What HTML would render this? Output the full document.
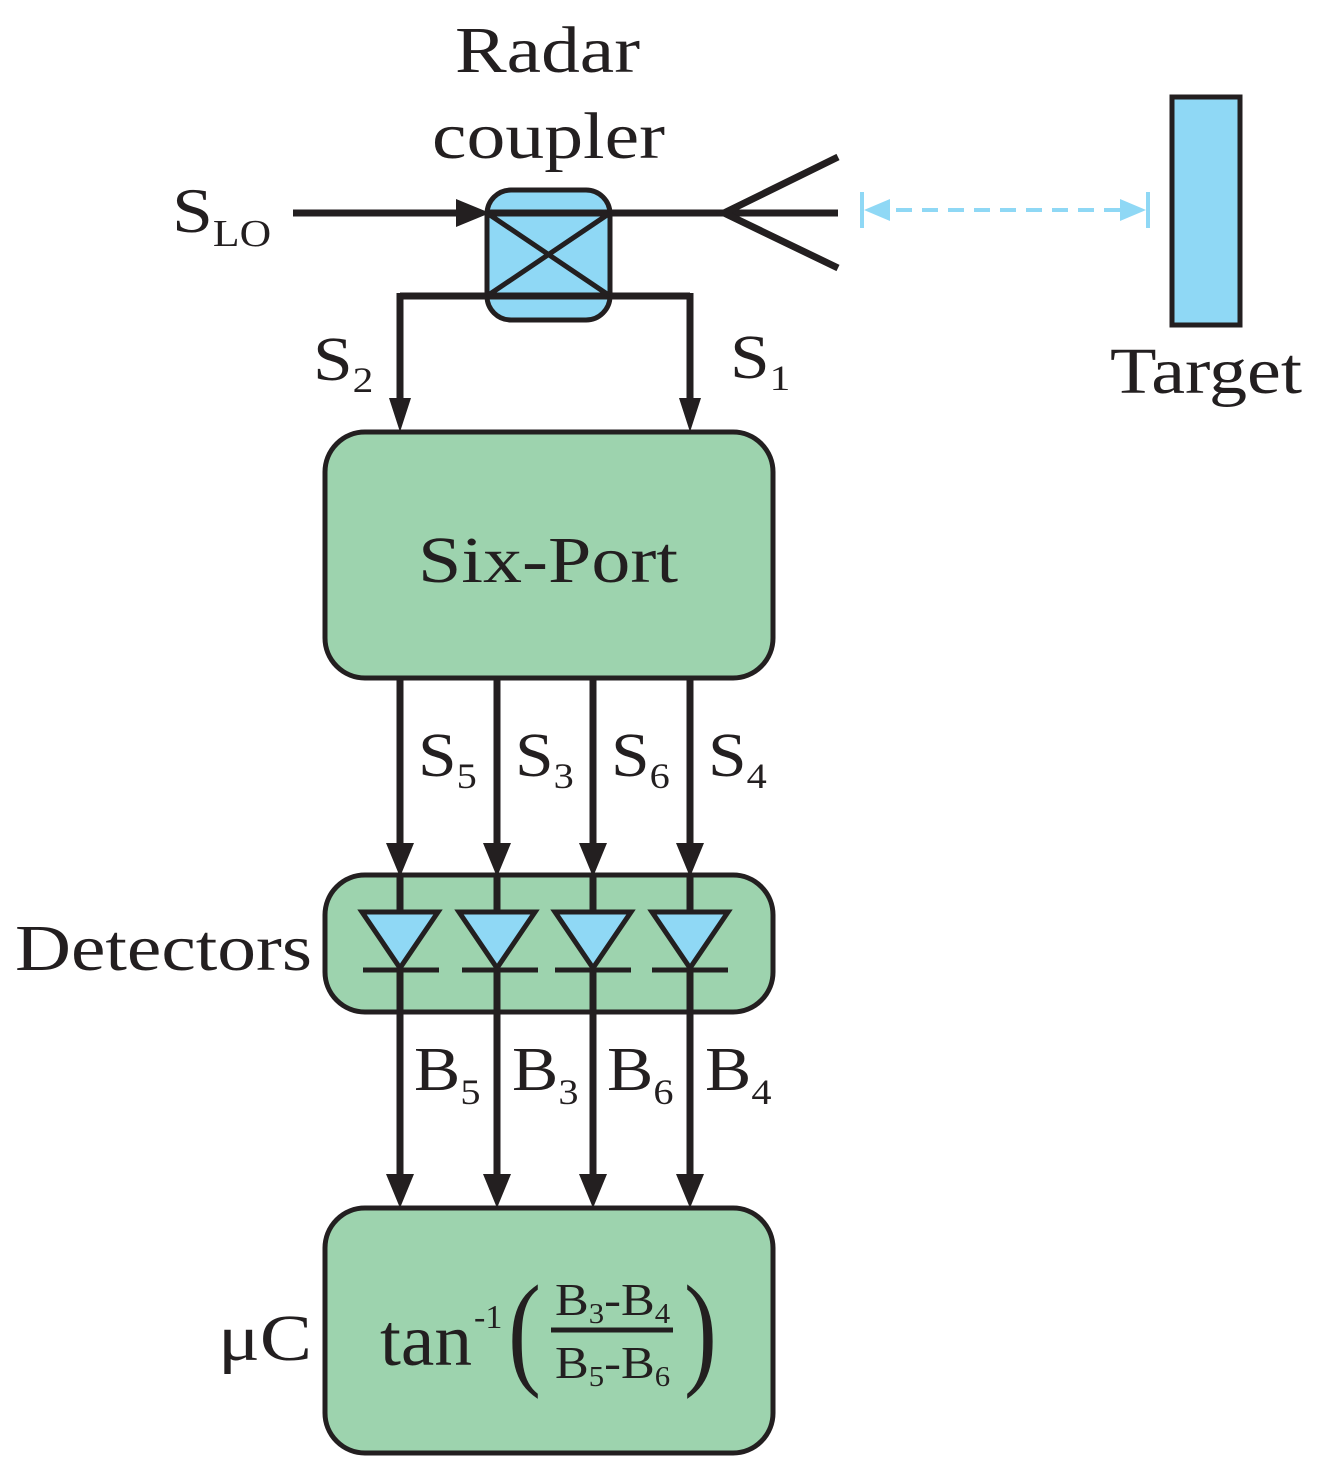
<!DOCTYPE html>
<html><head><meta charset="utf-8"><style>body{margin:0;background:#fff}svg{display:block}</style></head><body>
<svg width="1321" height="1477" viewBox="0 0 1321 1477" xmlns="http://www.w3.org/2000/svg" font-family="Liberation Serif, serif" fill="#231f20">
<g stroke="#231f20" stroke-width="7" fill="none">
<line x1="293" y1="213" x2="470" y2="213"/>
<rect x="487" y="190" width="123" height="130" rx="24" fill="#8fd8f5" stroke-width="5"/>
<line x1="487" y1="213" x2="838" y2="213"/>
<line x1="400" y1="296" x2="690" y2="296"/>
<line x1="487" y1="213" x2="610" y2="296" stroke-width="5"/>
<line x1="610" y1="213" x2="487" y2="296" stroke-width="5"/>
<path d="M838,157 L724,213 L838,268"/>
<path d="M400,293 V405 M690,293 V405"/>
</g>
<path d="M456,199 L490,213 L456,227z"/>
<path d="M389,398 L400,432 L411,398z M679,398 L690,432 L701,398z"/>
<g stroke="#8fd8f5" stroke-width="4" fill="#8fd8f5">
<line x1="870" y1="210" x2="1140" y2="210" stroke-dasharray="16,10"/>
<line x1="862" y1="192" x2="862" y2="228"/>
<line x1="1148" y1="192" x2="1148" y2="228"/>
<path d="M864,210 L890,199 L890,221z" stroke="none"/>
<path d="M1146,210 L1120,199 L1120,221z" stroke="none"/>
</g>
<rect x="1172" y="97" width="68" height="228" fill="#8fd8f5" stroke="#231f20" stroke-width="5"/>
<g fill="#9dd3ae" stroke="#231f20" stroke-width="5">
<rect x="325" y="432" width="448" height="246" rx="40"/>
<rect x="325" y="875" width="448" height="137" rx="40"/>
<rect x="325" y="1208" width="448" height="245" rx="40"/>
</g>
<g stroke="#231f20" stroke-width="7">
<path d="M400,678 V850 M497,678 V850 M593,678 V850 M690,678 V850"/>
<path d="M400,875 V912 M497,875 V912 M593,875 V912 M690,875 V912"/>
<path d="M400,968 V1180 M497,968 V1180 M593,968 V1180 M690,968 V1180"/>
</g>
<path d="M386,843 L400,877 L414,843z M483,843 L497,877 L511,843z M579,843 L593,877 L607,843z M676,843 L690,877 L704,843z"/>
<path d="M386,1174 L400,1208 L414,1174z M483,1174 L497,1208 L511,1174z M579,1174 L593,1208 L607,1174z M676,1174 L690,1208 L704,1174z"/>
<g fill="#8fd8f5" stroke="#231f20" stroke-width="5">
<path d="M362,912 L438,912 L400,968z"/>
<path d="M459,912 L535,912 L497,968z"/>
<path d="M555,912 L631,912 L593,968z"/>
<path d="M652,912 L728,912 L690,968z"/>
</g>
<path d="M363,970 H439 M462,970 H538 M555,970 H631 M652,970 H728" stroke="#231f20" stroke-width="5"/>
<g font-size="66">
<text x="455" y="72" textLength="185" lengthAdjust="spacingAndGlyphs">Radar</text>
<text x="432" y="158" textLength="233" lengthAdjust="spacingAndGlyphs">coupler</text>
<text x="1110" y="393" textLength="192" lengthAdjust="spacingAndGlyphs">Target</text>
<text x="418" y="582" textLength="260" lengthAdjust="spacingAndGlyphs">Six-Port</text>
<text x="15" y="970" textLength="297" lengthAdjust="spacingAndGlyphs">Detectors</text>
<text x="218" y="1360" textLength="94" lengthAdjust="spacingAndGlyphs">μC</text>
</g>
<g transform="translate(172 232) scale(1.15 1)"><text font-size="64">S<tspan font-size="38" dy="14">LO</tspan></text></g>
<g transform="translate(313 380) scale(1.15 1)"><text font-size="62">S<tspan font-size="36" dy="12">2</tspan></text></g>
<g transform="translate(730 378) scale(1.15 1)"><text font-size="62">S<tspan font-size="36" dy="12">1</tspan></text></g>
<g font-size="62">
<g transform="translate(418 776) scale(1.12 1)"><text>S<tspan font-size="36" dy="12">5</tspan></text></g>
<g transform="translate(515 776) scale(1.12 1)"><text>S<tspan font-size="36" dy="12">3</tspan></text></g>
<g transform="translate(611 776) scale(1.12 1)"><text>S<tspan font-size="36" dy="12">6</tspan></text></g>
<g transform="translate(708 776) scale(1.12 1)"><text>S<tspan font-size="36" dy="12">4</tspan></text></g>
<g transform="translate(414 1090) scale(1.12 1)"><text>B<tspan font-size="36" dy="14">5</tspan></text></g>
<g transform="translate(512 1090) scale(1.12 1)"><text>B<tspan font-size="36" dy="14">3</tspan></text></g>
<g transform="translate(607 1090) scale(1.12 1)"><text>B<tspan font-size="36" dy="14">6</tspan></text></g>
<g transform="translate(705 1090) scale(1.12 1)"><text>B<tspan font-size="36" dy="14">4</tspan></text></g>
</g>
<text x="380" y="1365" font-size="74" textLength="92" lengthAdjust="spacingAndGlyphs">tan</text>
<text x="474" y="1328" font-size="34">-1</text>
<text x="508" y="1372" font-size="110" font-weight="normal" transform="translate(508 1372) scale(0.9 1.15) translate(-508 -1372)">(</text>
<text x="684" y="1372" font-size="110" transform="translate(684 1372) scale(0.9 1.15) translate(-684 -1372)">)</text>
<line x1="551" y1="1330" x2="673" y2="1330" stroke="#231f20" stroke-width="5"/>
<g transform="translate(555 1315) scale(1.1 1)"><text font-size="46">B<tspan font-size="28" dy="8">3</tspan><tspan dy="-8">-B</tspan><tspan font-size="28" dy="8">4</tspan></text></g>
<g transform="translate(555 1378) scale(1.1 1)"><text font-size="46">B<tspan font-size="28" dy="8">5</tspan><tspan dy="-8">-B</tspan><tspan font-size="28" dy="8">6</tspan></text></g>
</svg>
</body></html>
